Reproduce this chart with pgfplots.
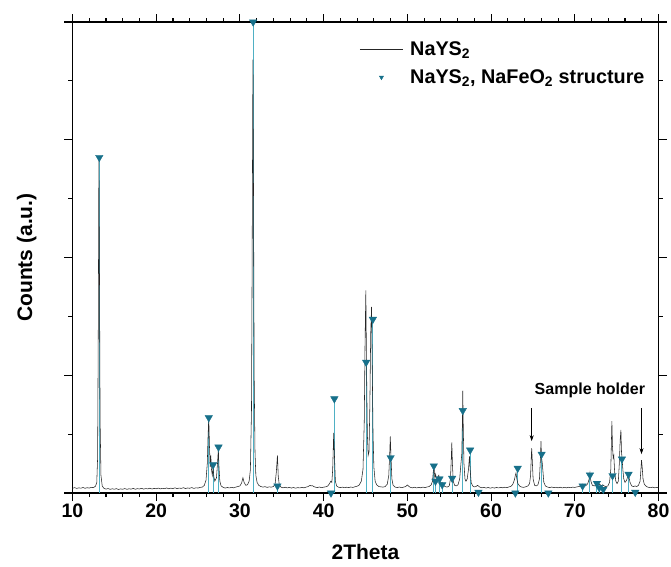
\documentclass[border=0pt]{standalone}
\usepackage{fontspec}
\setmainfont{Liberation Sans}
\usepackage{pgfplots}
\pgfplotsset{compat=1.18}
\usepackage{pgfplotstable}
\usetikzlibrary{arrows.meta}
\definecolor{stick}{HTML}{4FB0C4}
\definecolor{mk}{HTML}{17708A}
\pgfplotsset{
  lineleg/.style={legend image code/.code={\draw[##1] (0pt,0pt) -- (43pt,0pt);}},
  markleg/.style={legend image code/.code={\draw[##1, mark size=2.5pt] plot coordinates {(21.5pt,0pt)};}},
}

\pgfplotstableread{
x y
10.00 0.040
10.25 0.046
10.50 0.039
10.75 0.044
11.00 0.041
11.25 0.047
11.50 0.040
11.75 0.045
12.00 0.042
12.25 0.048
12.50 0.046
12.75 0.058
12.90 0.090
13.00 0.30
13.08 1.40
13.15 2.82
13.22 1.90
13.30 0.60
13.40 0.15
13.55 0.06
13.75 0.040
14.00 0.033
14.25 0.038
14.50 0.031
14.75 0.036
15.00 0.032
15.25 0.037
15.50 0.030
15.75 0.035
16.00 0.032
16.25 0.038
16.50 0.031
16.75 0.036
17.00 0.033
17.25 0.039
17.50 0.032
17.75 0.037
18.00 0.034
18.25 0.040
18.50 0.033
18.75 0.038
19.00 0.035
19.25 0.041
19.50 0.034
19.75 0.039
20.00 0.036
20.25 0.042
20.50 0.035
20.75 0.040
21.00 0.037
21.25 0.043
21.50 0.036
21.75 0.041
22.00 0.038
22.25 0.044
22.50 0.037
22.75 0.042
23.00 0.039
23.25 0.045
23.50 0.038
23.75 0.043
24.00 0.040
24.25 0.046
24.50 0.039
24.75 0.044
25.00 0.042
25.25 0.048
25.50 0.050
25.75 0.065
25.95 0.11
26.10 0.25
26.20 0.50
26.28 0.64
26.36 0.40
26.45 0.22
26.52 0.32
26.60 0.20
26.70 0.15
26.80 0.22
26.88 0.14
27.00 0.10
27.20 0.13
27.32 0.25
27.42 0.37
27.50 0.22
27.60 0.10
27.75 0.06
28.00 0.048
28.25 0.042
28.50 0.047
28.75 0.043
29.00 0.048
29.25 0.044
29.50 0.050
29.75 0.055
30.00 0.060
30.20 0.085
30.36 0.13
30.50 0.09
30.70 0.065
30.90 0.07
31.10 0.10
31.25 0.20
31.38 0.70
31.46 2.00
31.55 3.68
31.62 2.60
31.70 1.00
31.80 0.35
31.90 0.15
32.05 0.09
32.25 0.065
32.50 0.055
32.75 0.050
33.00 0.054
33.25 0.048
33.50 0.052
33.75 0.050
34.00 0.055
34.20 0.075
34.35 0.18
34.48 0.32
34.58 0.14
34.70 0.07
34.90 0.050
35.15 0.044
35.40 0.049
35.65 0.043
35.90 0.048
36.15 0.042
36.40 0.047
36.65 0.041
36.90 0.046
37.15 0.043
37.40 0.048
37.65 0.044
37.90 0.050
38.15 0.055
38.35 0.065
38.50 0.060
38.65 0.063
38.80 0.055
39.00 0.050
39.25 0.046
39.50 0.051
39.75 0.045
40.00 0.050
40.25 0.052
40.50 0.060
40.70 0.080
40.85 0.10
40.98 0.09
41.08 0.20
41.20 0.51
41.30 0.30
41.40 0.10
41.55 0.060
41.75 0.050
42.00 0.046
42.25 0.050
42.50 0.045
42.75 0.049
43.00 0.046
43.25 0.051
43.50 0.047
43.75 0.053
44.00 0.058
44.25 0.068
44.50 0.10
44.70 0.20
44.85 0.60
44.95 1.30
45.04 1.72
45.12 1.10
45.22 0.50
45.32 0.32
45.42 0.35
45.52 0.75
45.62 1.35
45.72 1.58
45.80 1.10
45.90 0.50
46.00 0.22
46.15 0.10
46.35 0.068
46.60 0.055
46.85 0.052
47.10 0.050
47.35 0.055
47.60 0.075
47.78 0.15
47.90 0.35
47.96 0.48
48.05 0.30
48.15 0.12
48.30 0.065
48.55 0.050
48.80 0.046
49.05 0.051
49.30 0.045
49.55 0.050
49.80 0.055
50.00 0.068
50.15 0.058
50.35 0.048
50.60 0.044
50.85 0.049
51.10 0.043
51.35 0.048
51.60 0.044
51.85 0.050
52.10 0.046
52.35 0.051
52.60 0.055
52.85 0.070
53.00 0.10
53.10 0.18
53.18 0.22
53.28 0.13
53.38 0.16
53.46 0.12
53.56 0.10
53.66 0.14
53.76 0.15
53.86 0.10
54.00 0.08
54.15 0.09
54.30 0.065
54.50 0.055
54.75 0.050
55.00 0.060
55.15 0.12
55.25 0.30
55.31 0.43
55.38 0.25
55.48 0.10
55.65 0.065
55.85 0.060
56.05 0.070
56.25 0.12
56.40 0.25
56.50 0.33
56.56 0.55
56.62 0.87
56.68 0.55
56.76 0.25
56.88 0.12
57.00 0.10
57.15 0.12
57.30 0.20
57.42 0.31
57.50 0.20
57.62 0.09
57.80 0.060
58.00 0.052
58.20 0.055
58.38 0.065
58.48 0.06
58.65 0.050
58.90 0.044
59.15 0.048
59.40 0.042
59.65 0.047
59.90 0.041
60.15 0.046
60.40 0.042
60.65 0.047
60.90 0.043
61.15 0.048
61.40 0.044
61.65 0.049
61.90 0.046
62.15 0.052
62.40 0.058
62.60 0.075
62.78 0.11
62.90 0.15
62.98 0.17
63.08 0.12
63.20 0.08
63.40 0.060
63.65 0.050
63.90 0.048
64.15 0.053
64.40 0.060
64.60 0.080
64.72 0.15
64.80 0.30
64.85 0.38
64.92 0.28
65.02 0.12
65.20 0.065
65.40 0.060
65.60 0.070
65.78 0.12
65.90 0.30
65.96 0.44
66.03 0.30
66.12 0.25
66.20 0.18
66.30 0.09
66.50 0.060
66.75 0.050
67.00 0.046
67.25 0.051
67.50 0.045
67.75 0.049
68.00 0.044
68.25 0.049
68.50 0.043
68.75 0.048
69.00 0.044
69.25 0.049
69.50 0.045
69.75 0.050
70.00 0.047
70.25 0.052
70.50 0.055
70.75 0.060
70.93 0.075
71.10 0.060
71.30 0.060
71.55 0.080
71.72 0.12
71.81 0.17
71.92 0.10
72.10 0.065
72.35 0.060
72.55 0.070
72.70 0.085
72.82 0.070
72.98 0.075
73.15 0.060
73.35 0.070
73.50 0.060
73.70 0.055
73.95 0.060
74.15 0.090
74.30 0.20
74.38 0.45
74.43 0.61
74.50 0.40
74.58 0.30
74.66 0.32
74.76 0.18
74.90 0.10
75.05 0.080
75.20 0.10
75.32 0.25
75.42 0.45
75.51 0.535
75.58 0.35
75.66 0.28
75.74 0.20
75.85 0.12
76.00 0.090
76.20 0.11
76.35 0.15
76.45 0.14
76.60 0.09
76.80 0.060
77.00 0.055
77.20 0.060
77.40 0.055
77.60 0.065
77.80 0.10
77.90 0.20
77.97 0.28
78.05 0.22
78.15 0.12
78.30 0.075
78.55 0.055
78.80 0.048
79.05 0.045
79.30 0.050
79.55 0.044
79.80 0.048
80.00 0.046
}\curve

\pgfplotstableread{
x y
13.20 2.85
26.28 0.64
26.80 0.24
27.44 0.39
31.58 4.00
34.48 0.06
40.88 0.00
41.28 0.80
45.08 1.11
45.88 1.475
48.00 0.30
53.16 0.23
53.36 0.10
53.84 0.12
54.16 0.07
55.35 0.125
56.62 0.70
57.50 0.365
58.49 0.006
62.90 0.00
63.18 0.21
66.04 0.33
66.84 0.00
70.93 0.06
71.81 0.153
72.64 0.082
72.92 0.045
73.40 0.031
74.51 0.147
75.63 0.289
76.42 0.159
77.22 0.006
}\refpat

\begin{document}
\begin{tikzpicture}
\begin{axis}[
  scale only axis, width=586pt, height=471pt,
  xmin=10, xmax=80, ymin=0, ymax=4,
  xtick={10,20,...,80}, minor x tick num=4,
  ytick={0,1,2,3,4}, yticklabels={}, minor y tick num=1,
  tick align=outside, major tick length=8pt, minor tick length=4pt,
  axis line style={line width=1.2pt},
  every tick/.style={line width=1.1pt, black},
  /pgf/number format/assume math mode=true,
  xticklabel style={font=\bfseries\fontsize{19.5}{22}\selectfont, yshift=1pt},
  xlabel={2Theta}, ylabel={Counts (a.u.)},
  label style={font=\bfseries\fontsize{21}{24}\selectfont},
  xlabel style={at={(axis description cs:0.5,-0.126)}, anchor=center},
  ylabel style={at={(axis description cs:-0.078,0.5)}, anchor=center},
  clip=false,
  legend style={at={(0.985,0.968)}, anchor=north east, draw=none, fill=none,
    font=\bfseries\fontsize{19.8}{22}\selectfont, row sep=9pt,
    legend cell align=left,
    /tikz/every odd column/.append style={column sep=5pt}},
]
\addplot[stick, line width=0.9pt, ycomb, forget plot] table {\refpat};
\addplot[black!85, line width=0.55pt, lineleg] table {\curve};
\addlegendentry{NaYS\textsubscript{2}}
\addplot[only marks, mk, mark=triangle*, mark size=4.3pt,
  mark options={rotate=180, fill=mk, draw=mk}, markleg] table {\refpat};
\addlegendentry{NaYS\textsubscript{2}, NaFeO\textsubscript{2} structure}
\node[font=\bfseries\fontsize{16}{18}\selectfont] at (axis cs:71.8,0.87) {Sample holder};
\draw[-{Stealth[length=6pt,width=4pt]}, line width=0.6pt] (axis cs:64.85,0.72) -- (axis cs:64.85,0.44);
\draw[-{Stealth[length=6pt,width=4pt]}, line width=0.6pt] (axis cs:77.97,0.72) -- (axis cs:77.97,0.33);
\end{axis}
\pgfresetboundingbox
\useasboundingbox (-72.5pt,-73pt) rectangle (598.5pt,493pt);
\end{tikzpicture}
\end{document}
